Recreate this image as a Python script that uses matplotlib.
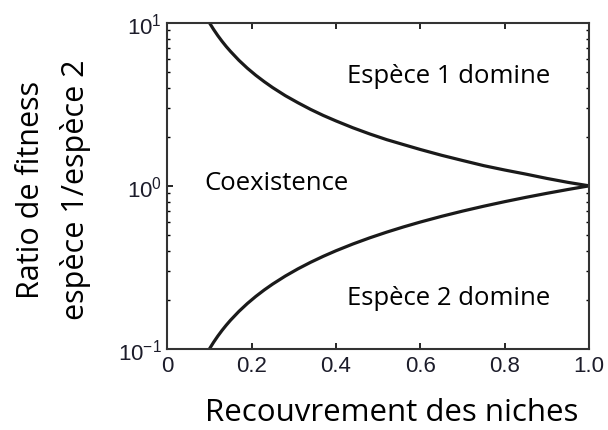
import matplotlib.pyplot as plt
from matplotlib.ticker import LogLocator, NullFormatter

# niche overlap (x) and fitness ratio
overlap = [0.10, 0.11, 0.12, 0.13, 0.14, 0.15, 0.17, 0.19, 0.21, 0.23,
           0.25, 0.28, 0.31, 0.34, 0.37, 0.40, 0.44, 0.48, 0.52, 0.56,
           0.60, 0.65, 0.70, 0.75, 0.80, 0.85, 0.90, 0.95, 1.00]
upper = [10.0, 9.09, 8.33, 7.69, 7.14, 6.67, 5.88, 5.26, 4.76, 4.35,
         4.0, 3.57, 3.23, 2.94, 2.70, 2.5, 2.27, 2.08, 1.92, 1.79,
         1.67, 1.54, 1.43, 1.33, 1.25, 1.18, 1.11, 1.05, 1.0]
lower = [0.10, 0.11, 0.12, 0.13, 0.14, 0.15, 0.17, 0.19, 0.21, 0.23,
         0.25, 0.28, 0.31, 0.34, 0.37, 0.40, 0.44, 0.48, 0.52, 0.56,
         0.60, 0.65, 0.70, 0.75, 0.80, 0.85, 0.90, 0.95, 1.00]
xticks = [0, 0.2, 0.4, 0.6, 0.8, 1.0]
xticklabels = ['0', '0.2', '0.4', '0.6', '0.8', '1.0']

plt.rcParams['font.family'] = ['Liberation Sans', 'DejaVu Sans']
plt.rcParams['mathtext.fontset'] = 'custom'
plt.rcParams['mathtext.rm'] = 'Liberation Sans'
plt.rcParams['mathtext.it'] = 'Liberation Sans'
plt.rcParams['xtick.labelsize'] = 16
plt.rcParams['ytick.labelsize'] = 16

fig = plt.figure(figsize=(6.08, 4.31), dpi=100)
ax = fig.add_axes([0.275, 0.188, 0.694, 0.757])

ax.plot(overlap, upper, color='#1a1a1a', lw=2.3, solid_capstyle='butt')
ax.plot(overlap, lower, color='#1a1a1a', lw=2.3, solid_capstyle='butt')

ax.set_yscale('log')
ax.set_xlim(0, 1)
ax.set_ylim(0.1, 10)
ax.set_xticks(xticks)
ax.set_xticklabels(xticklabels, fontsize=16)
ax.yaxis.set_major_locator(LogLocator(base=10, numticks=5))
ax.yaxis.set_minor_locator(LogLocator(base=10, subs=range(2, 10), numticks=12))
ax.yaxis.set_minor_formatter(NullFormatter())

ax.tick_params(which='both', direction='in', top=True, right=True,
               labelcolor='#1c1c2a', pad=4)
ax.tick_params(which='major', length=4, width=1.2)
ax.tick_params(which='minor', length=2.5, width=1)
for s in ax.spines.values():
    s.set_linewidth(1.5)
    s.set_color('#333333')

txt = dict(family='Open Sans', fontsize=18.5, color='black')
ax.text(0.668, 4.75, 'Espèce 1 domine', ha='center', va='center', **txt)
ax.text(0.26, 1.05, 'Coexistence', ha='center', va='center', **txt)
ax.text(0.668, 0.207, 'Espèce 2 domine', ha='center', va='center', **txt)

fig.text(0.645, 0.042, 'Recouvrement des niches', ha='center', va='center',
         family='Open Sans', fontsize=22.5)
fig.text(0.088, 0.56, 'Ratio de fitness\nespèce 1/espèce 2', ha='center',
         va='center', rotation=90, family='Open Sans', fontsize=22,
         linespacing=1.55)

fig.savefig('out.png', dpi=100)
